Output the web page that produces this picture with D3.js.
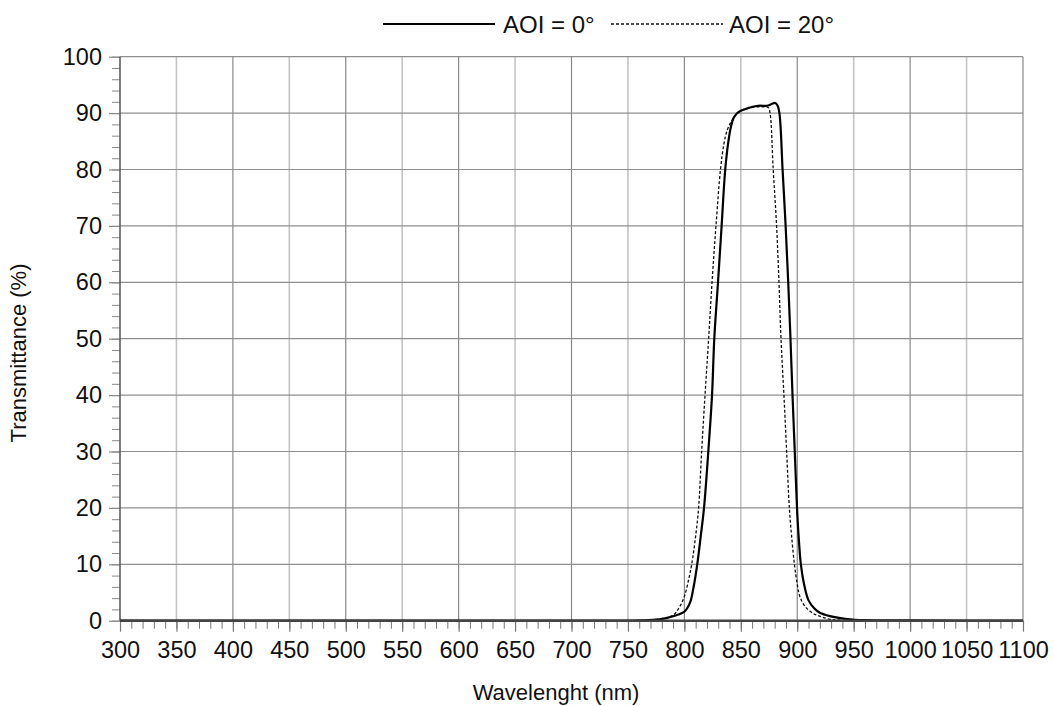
<!DOCTYPE html>
<html>
<head>
<meta charset="utf-8">
<script src="https://cdn.jsdelivr.net/npm/d3@7"></script>
<style>
  html, body { margin: 0; padding: 0; background: #fff; }
  svg { display: block; font-family: "Liberation Sans", Arial, sans-serif; }
</style>
</head>
<body>
<svg id="chart" width="1054" height="706"></svg>
<script>
// ---- data ----
const xTicks = [300, 350, 400, 450, 500, 550, 600, 650, 700, 750, 800, 850, 900, 950, 1000, 1050, 1100];
const yTicks = [0, 10, 20, 30, 40, 50, 60, 70, 80, 90, 100];
const seriesNames = ["AOI = 0°", "AOI = 20°"];

const aoi0Wavelength = [300, 500, 700, 760, 778, 790, 800, 805, 808, 811.4, 814.5, 817.4, 821.2, 824.5, 826.5, 829.8, 833, 836.2, 839, 841.5, 843.8, 846.3, 850, 856.6, 865.5, 873, 877.3, 880.3, 882.4, 884.2, 887, 889.7, 892, 894, 895.8, 897.8, 899.8, 901.2, 903.2, 906, 910, 915, 920, 929, 944, 960, 1000, 1100];
const aoi0Trans      = [0, 0, 0, 0.05, 0.25, 0.8, 1.6, 3.2, 5.8, 10, 15, 20, 30, 40, 50, 60, 70, 80, 85, 87.8, 89.2, 89.9, 90.4, 90.9, 91.3, 91.3, 91.6, 91.8, 91.4, 90, 80, 70, 60, 50, 40, 30, 20, 15, 10, 6.5, 3.6, 2.2, 1.4, 0.8, 0.3, 0.1, 0.05, 0];

const aoi20Wavelength = [300, 500, 700, 760, 778, 790.2, 795, 800, 804, 806.5, 810, 812.6, 815.3, 818.3, 821.5, 824.5, 828, 832, 835, 838, 841.8, 846, 850, 856, 862.6, 870, 874.3, 875.9, 878.7, 881.7, 883.8, 885.6, 888.2, 890.6, 893, 895, 897.5, 900, 902.3, 907, 914, 918.6, 929, 940, 1100];
const aoi20Trans      = [0, 0, 0, 0.05, 0.3, 1.0, 2.2, 4.3, 7.5, 10, 15, 20, 30, 40, 50, 60, 70, 80, 84.5, 87, 88.6, 89.8, 90.4, 90.8, 91.1, 91.1, 91.0, 90, 80, 70, 60, 50, 40, 30, 20, 15, 10, 6.5, 4.3, 2.5, 1.3, 0.9, 0.25, 0.1, 0];

// ---- layout ----
const svg = d3.select("#chart");
const mLeft = 120, mRight = 1023, mTop = 56.7, mBottom = 620.7;

const x = d3.scaleLinear().domain([300, 1100]).range([mLeft, mRight]);
const y = d3.scaleLinear().domain([0, 100]).range([mBottom, mTop]);

// grid lines
svg.append("g").selectAll("line").data(xTicks.slice(1)).join("line")
  .attr("x1", d => x(d)).attr("x2", d => x(d))
  .attr("y1", y(100)).attr("y2", y(0))
  .attr("stroke", d => d % 100 === 0 ? "#8a8a8a" : "#c4c4c4")
  .attr("stroke-width", d => d % 100 === 0 ? 1.2 : 1.6);

svg.append("g").selectAll("line").data(yTicks.slice(1)).join("line")
  .attr("x1", x(300)).attr("x2", x(1100))
  .attr("y1", d => y(d)).attr("y2", d => y(d))
  .attr("stroke", "#8f8f8f")
  .attr("stroke-width", 1.2);

// minor ticks
const xMinor = d3.range(300, 1101, 10);
const yMinor = d3.range(0, 101, 2);

const gxMinor = svg.append("g").attr("transform", `translate(0,${mBottom})`)
  .call(d3.axisBottom(x).tickValues(xMinor).tickSize(8).tickFormat(""));
gxMinor.select(".domain").remove();
gxMinor.selectAll("line").attr("stroke", "#777").attr("stroke-width", 1);

const gxMajor = svg.append("g").attr("transform", `translate(0,${mBottom})`)
  .call(d3.axisBottom(x).tickValues(xTicks).tickSize(11).tickPadding(10).tickFormat(d => d));
gxMajor.select(".domain").remove();
gxMajor.selectAll("line").attr("stroke", "#777").attr("stroke-width", 1.2);
gxMajor.selectAll("text").attr("font-size", 23.5).attr("fill", "#111")
  .attr("font-family", "Liberation Sans, Arial, sans-serif");

const gyMinor = svg.append("g").attr("transform", `translate(${mLeft},0)`)
  .call(d3.axisLeft(y).tickValues(yMinor).tickSize(8).tickFormat(""));
gyMinor.select(".domain").remove();
gyMinor.selectAll("line").attr("stroke", "#8a8a8a").attr("stroke-width", 1);

const gyMajor = svg.append("g").attr("transform", `translate(${mLeft},0)`)
  .call(d3.axisLeft(y).tickValues(yTicks).tickSize(11).tickPadding(7).tickFormat(d => d));
gyMajor.select(".domain").remove();
gyMajor.selectAll("line").attr("stroke", "#8a8a8a").attr("stroke-width", 1.2);
gyMajor.selectAll("text").attr("font-size", 23.5).attr("fill", "#111")
  .attr("font-family", "Liberation Sans, Arial, sans-serif");

// left axis line
svg.append("line").attr("x1", mLeft).attr("x2", mLeft).attr("y1", y(100)).attr("y2", y(0))
  .attr("stroke", "#555").attr("stroke-width", 1.5);

// curves
const line = d3.line().x(d => x(d[0])).y(d => y(Math.max(0, d[1]))).curve(d3.curveCatmullRom.alpha(0.5));
const aoi0 = aoi0Wavelength.map((w, i) => [w, aoi0Trans[i]]);
const aoi20 = aoi20Wavelength.map((w, i) => [w, aoi20Trans[i]]);

svg.append("path").datum(aoi20).attr("d", line)
  .attr("fill", "none").attr("stroke", "#111").attr("stroke-width", 1.3)
  .attr("stroke-dasharray", "3,2");
svg.append("path").datum(aoi0).attr("d", line)
  .attr("fill", "none").attr("stroke", "#000").attr("stroke-width", 2.2);

// bottom axis line
svg.append("line").attr("x1", mLeft).attr("x2", mRight).attr("y1", mBottom).attr("y2", mBottom)
  .attr("stroke", "#444").attr("stroke-width", 2.5);

// axis titles
svg.append("text").attr("x", 556).attr("y", 700).attr("text-anchor", "middle")
  .attr("font-size", 22).attr("fill", "#111").text("Wavelenght (nm)");
svg.append("text").attr("transform", "translate(26,353) rotate(-90)").attr("text-anchor", "middle")
  .attr("font-size", 22).attr("fill", "#111").text("Transmittance (%)");

// legend
const legend = svg.append("g");
legend.append("line").attr("x1", 383).attr("x2", 495).attr("y1", 24).attr("y2", 24)
  .attr("stroke", "#000").attr("stroke-width", 2.2);
legend.append("text").attr("x", 503).attr("y", 33).attr("font-size", 24).attr("fill", "#111").text(seriesNames[0]);
legend.append("line").attr("x1", 611).attr("x2", 723).attr("y1", 24).attr("y2", 24)
  .attr("stroke", "#111").attr("stroke-width", 1.3).attr("stroke-dasharray", "3,2");
legend.append("text").attr("x", 729).attr("y", 33).attr("font-size", 24).attr("fill", "#111").text(seriesNames[1]);
</script>
</body>
</html>
